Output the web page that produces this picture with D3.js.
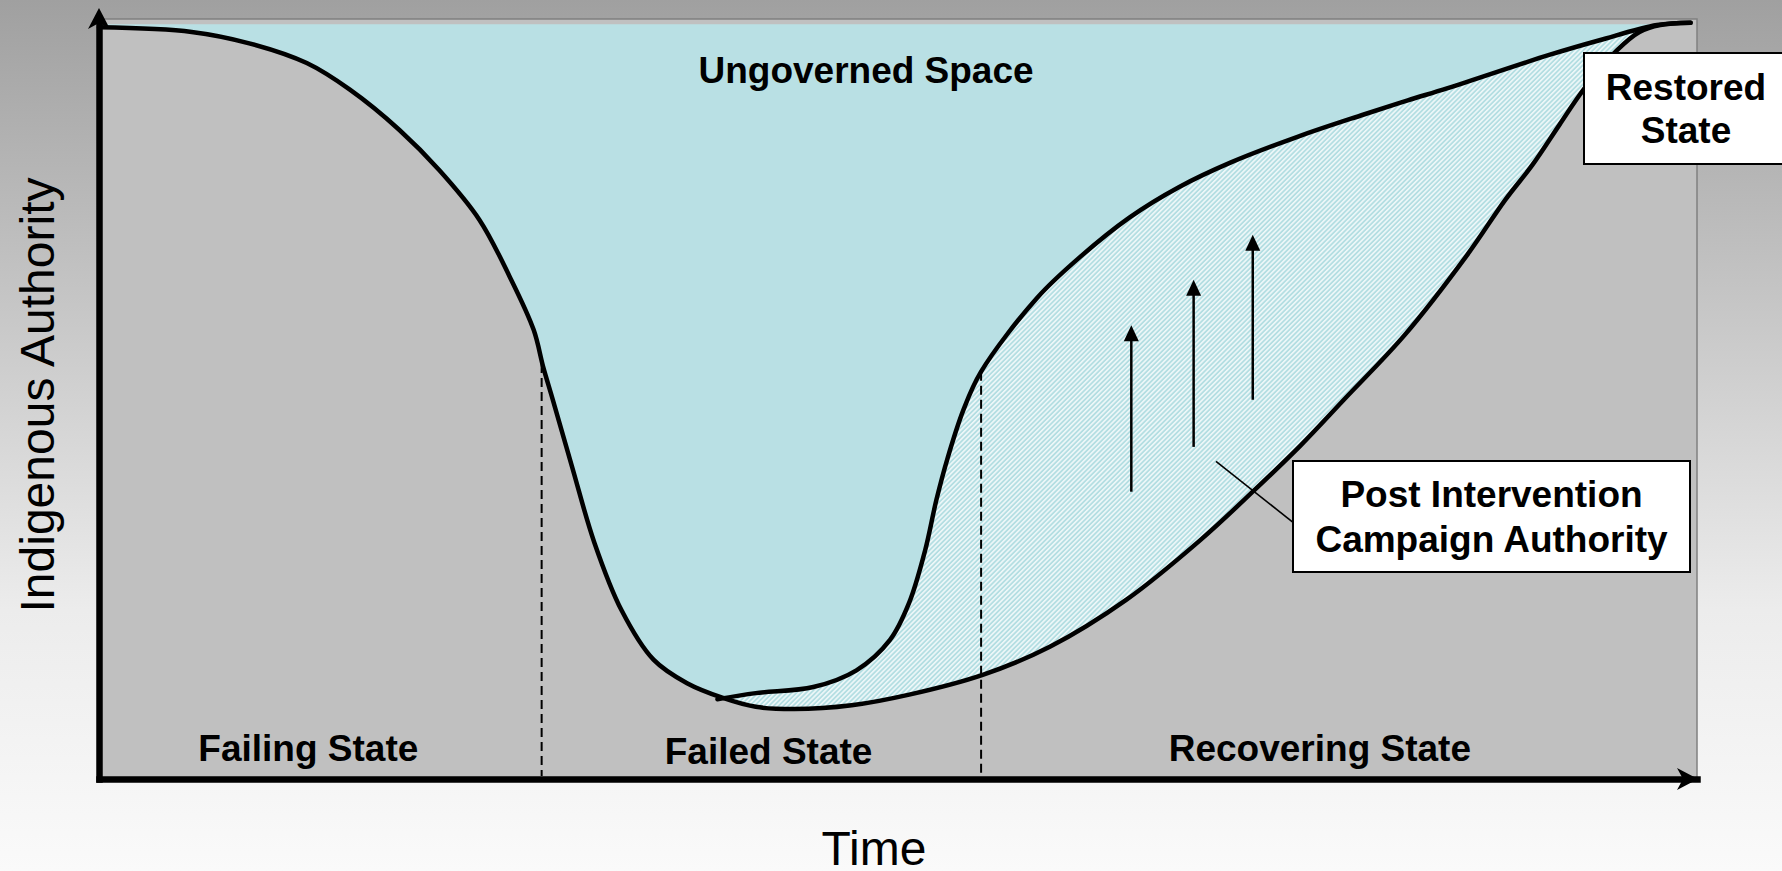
<!DOCTYPE html>
<html>
<head>
<meta charset="utf-8">
<script src="https://cdn.jsdelivr.net/npm/d3@7"></script>
<style>
  body { margin: 0; overflow: hidden; }
  svg { display: block; }
</style>
</head>
<body>
<div id="chart"></div>
<script>
//Values (time 0-100, authority 0-100)
var outerTime = [0, 5.8, 9.4, 13.0, 15.7, 18.8, 21.3, 23.8, 25.7, 27.2, 27.8, 28.4, 29.6, 31.0, 32.7, 34.7, 36.8, 39.0, 41.1, 43.5,
                 47.1, 50.7, 55.3, 59.5, 64.3, 68.9, 72.3, 75.2, 77.9, 81.7, 85.6, 88.0, 89.7, 91.4, 92.9, 95.0, 96.4, 97.7, 99.6]
var outerAuth = [98.9, 98.3, 96.8, 94.2, 90.7, 85.4, 80.1, 73.6, 66.1, 59.1, 54.2, 49.9, 41.1, 31.1, 22.2, 15.7, 12.6, 10.7, 9.5, 9.2,
                 9.7, 11.1, 13.7, 17.4, 23.6, 31.4, 38.0, 43.9, 49.9, 58.4, 68.9, 76.2, 80.8, 86.1, 90.7, 95.9, 98.3, 99.2, 99.5]

//Post intervention campaign authority (upper edge of the hatched band)
var innerTime = [38.7, 41.1, 44.7, 47.4, 49.5, 50.7, 51.7, 52.4, 53.1, 54.1, 55.2, 58.7, 61.4, 64.5, 67.6, 70.8, 75.0, 79.1, 81.9, 84.4, 90.8, 93.9, 97.5, 99.6]
var innerAuth = [10.5, 11.3, 12.1, 14.3, 18.3, 23.2, 30.1, 36.7, 42.2, 48.6, 53.6, 63.3, 68.7, 73.9, 77.9, 81.1, 84.5, 87.4, 89.3, 90.9, 95.3, 97.2, 99.2, 99.5]

var phaseNames = ["Failing State", "Failed State", "Recovering State"]
var phaseLabelTime = [13.1, 41.9, 76.4]
var phaseLabelAuth = [2.4, 2.0, 2.4]
var phaseBoundTime = [27.7, 55.2]
var phaseBoundTop = [54.6, 53.6]

var arrowTime = [64.6, 68.5, 72.2]
var arrowFrom = [37.8, 43.7, 49.9]
var arrowTo = [59.7, 65.7, 71.6]

var ungovernedTop = 99.3

//Sizes of the page
var width = 1782
var height = 871

var svg = d3.select("#chart")
            .append("svg")
            .attr("width", width)
            .attr("height", height)

var defs = svg.append("defs")

//Background gradient
var grad = defs.append("linearGradient")
               .attr("id", "bg")
               .attr("x1", 0).attr("y1", 0)
               .attr("x2", 0).attr("y2", 1)
grad.append("stop").attr("offset", 0).attr("stop-color", "#a0a0a0")
grad.append("stop").attr("offset", 0.35).attr("stop-color", "#c6c6c6")
grad.append("stop").attr("offset", 0.7).attr("stop-color", "#ececec")
grad.append("stop").attr("offset", 1).attr("stop-color", "#fafafa")

//Hatch for the campaign authority band
var hatch = defs.append("pattern")
                .attr("id", "hatch")
                .attr("patternUnits", "userSpaceOnUse")
                .attr("width", 3.4)
                .attr("height", 10)
                .attr("patternTransform", "rotate(45)")
hatch.append("rect")
     .attr("width", 3.4)
     .attr("height", 10)
     .attr("fill", "#b4dee2")
hatch.append("line")
     .attr("x1", 0.8).attr("y1", 0)
     .attr("x2", 0.8).attr("y2", 10)
     .attr("stroke", "#eef8f9")
     .attr("stroke-width", 1.6)

svg.append("rect")
   .attr("width", width)
   .attr("height", height)
   .attr("fill", "url(#bg)")

//Scales
var x = d3.scaleLinear()
          .domain([0, 100])
          .range([99, 1697])

var y = d3.scaleLinear()
          .domain([0, 100])
          .range([779, 19])

//Plot area
svg.append("rect")
   .attr("x", x(0))
   .attr("y", y(100))
   .attr("width", x(100) - x(0))
   .attr("height", y(0) - y(100))
   .attr("fill", "#c0c0c0")
   .attr("stroke", "#808080")
   .attr("stroke-width", 1.5)

var outer = outerTime.map(function (t, i) { return [t, outerAuth[i]] })
var inner = innerTime.map(function (t, i) { return [t, innerAuth[i]] })

var line = d3.line()
             .x(function (d) { return x(d[0]) })
             .y(function (d) { return y(d[1]) })
             .curve(d3.curveCatmullRom.alpha(0.5))

var area = d3.area()
             .x(function (d) { return x(d[0]) })
             .y0(y(ungovernedTop))
             .y1(function (d) { return y(d[1]) })
             .curve(d3.curveCatmullRom.alpha(0.5))

//Ungoverned space
svg.append("path")
   .datum(outer)
   .attr("d", area)
   .attr("fill", "#b9e0e4")

//Hatched band between the two curves
var outerRight = outer.filter(function (d) { return d[0] >= 39 }).reverse()
svg.append("path")
   .attr("d", line(inner) + line(outerRight).replace(/^M/, "L") + "Z")
   .attr("fill", "url(#hatch)")

//Dashed phase boundaries
svg.selectAll(".phase")
   .data(phaseBoundTime)
   .enter()
   .append("line")
   .attr("class", "phase")
   .attr("x1", function (d) { return x(d) })
   .attr("x2", function (d) { return x(d) })
   .attr("y1", function (d, i) { return y(phaseBoundTop[i]) })
   .attr("y2", y(0) - 3)
   .attr("stroke", "#000")
   .attr("stroke-width", 2)
   .attr("stroke-dasharray", "9,5")

//The two curves
svg.append("path")
   .datum(outer)
   .attr("d", line)
   .attr("fill", "none")
   .attr("stroke", "#000")
   .attr("stroke-width", 4.5)
   .attr("stroke-linecap", "round")

svg.append("path")
   .datum(inner)
   .attr("d", line)
   .attr("fill", "none")
   .attr("stroke", "#000")
   .attr("stroke-width", 4.5)
   .attr("stroke-linecap", "round")

//Upward arrows
svg.selectAll(".stem")
   .data(arrowTime)
   .enter()
   .append("line")
   .attr("class", "stem")
   .attr("x1", function (d) { return x(d) })
   .attr("x2", function (d) { return x(d) })
   .attr("y1", function (d, i) { return y(arrowFrom[i]) })
   .attr("y2", function (d, i) { return y(arrowTo[i]) + 12 })
   .attr("stroke", "#000")
   .attr("stroke-width", 2.5)

svg.selectAll(".head")
   .data(arrowTime)
   .enter()
   .append("path")
   .attr("class", "head")
   .attr("d", function (d, i) {
     var hx = x(d), hy = y(arrowTo[i])
     return "M" + hx + "," + hy + "L" + (hx + 7.5) + "," + (hy + 16) + "L" + (hx - 7.5) + "," + (hy + 16) + "Z"
   })
   .attr("fill", "#000")

//Axes without ticks, thick lines with arrow heads
var xAxis = d3.axisBottom(x).ticks(0).tickSizeOuter(0)
var yAxis = d3.axisLeft(y).ticks(0).tickSizeOuter(0)

svg.append("g")
   .attr("class", "x axis")
   .attr("transform", "translate(0," + y(0) + ")")
   .call(xAxis)

svg.append("g")
   .attr("class", "y axis")
   .attr("transform", "translate(" + x(0) + ",0)")
   .call(yAxis)

svg.selectAll(".axis .domain")
   .attr("stroke", "#000")
   .attr("stroke-width", 6.5)
   .attr("stroke-linecap", "square")

var ax = x(100) + 1, ay = y(0)
svg.append("path")
   .attr("d", "M" + ax + "," + ay + "L" + (ax - 21) + "," + (ay - 11) + "L" + (ax - 15) + "," + ay + "L" + (ax - 21) + "," + (ay + 11) + "Z")
   .attr("fill", "#000")

var bx = x(0), by = y(100) - 11
svg.append("path")
   .attr("d", "M" + bx + "," + by + "L" + (bx - 11) + "," + (by + 21) + "L" + bx + "," + (by + 15) + "L" + (bx + 11) + "," + (by + 21) + "Z")
   .attr("fill", "#000")

//Text labels
var boldFont = "'Liberation Sans', Arial, sans-serif"

svg.append("text")
   .text("Ungoverned Space")
   .attr("x", x(48.0))
   .attr("y", y(91.6))
   .attr("text-anchor", "middle")
   .style("font-family", boldFont)
   .style("font-weight", "bold")
   .style("font-size", "37px")

svg.selectAll(".phaseLabel")
   .data(phaseNames)
   .enter()
   .append("text")
   .attr("class", "phaseLabel")
   .text(function (d) { return d })
   .attr("x", function (d, i) { return x(phaseLabelTime[i]) })
   .attr("y", function (d, i) { return y(phaseLabelAuth[i]) })
   .attr("text-anchor", "middle")
   .style("font-family", boldFont)
   .style("font-weight", "bold")
   .style("font-size", "37px")

//Leader line to the campaign box
svg.append("line")
   .attr("x1", x(69.9)).attr("y1", y(41.8))
   .attr("x2", x(74.7)).attr("y2", y(33.8))
   .attr("stroke", "#000")
   .attr("stroke-width", 1.6)

function labelBox(bx, by, bw, bh, lines, firstBase, step) {
  svg.append("rect")
     .attr("x", bx).attr("y", by)
     .attr("width", bw).attr("height", bh)
     .attr("fill", "#fff")
     .attr("stroke", "#000")
     .attr("stroke-width", 2)
  svg.append("text")
     .selectAll("tspan")
     .data(lines)
     .enter()
     .append("tspan")
     .text(function (d) { return d })
     .attr("x", bx + bw / 2)
     .attr("y", function (d, i) { return firstBase + i * step })
     .attr("text-anchor", "middle")
     .style("font-family", boldFont)
     .style("font-weight", "bold")
     .style("font-size", "37px")
}

labelBox(1293, 461, 397, 111, ["Post Intervention", "Campaign Authority"], 507, 45)
labelBox(1584, 53, 204, 111, ["Restored", "State"], 100, 43)

//Axis titles
svg.append("text")
   .text("Time")
   .attr("x", 874)
   .attr("y", 865)
   .attr("text-anchor", "middle")
   .style("font-family", "'Liberation Sans', Arial, sans-serif")
   .style("font-size", "48px")

svg.append("text")
   .text("Indigenous Authority")
   .attr("transform", "translate(54,395) rotate(-90)")
   .attr("text-anchor", "middle")
   .style("font-family", "'Liberation Sans', Arial, sans-serif")
   .style("font-size", "48px")
</script>
</body>
</html>
